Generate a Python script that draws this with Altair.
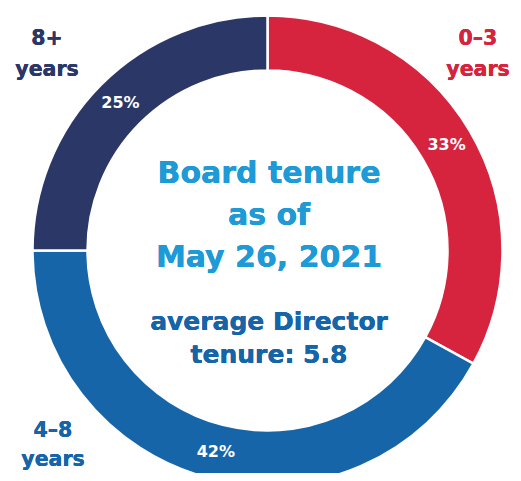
import altair as alt
import pandas as pd

# ---- data ----
categories = ["0–3 years", "4–8 years", "8+ years"]
shares = [33, 42, 25]
pct_labels = ["33%", "42%", "25%"]
label_lines = [["0–3", "years"], ["4–8", "years"], ["8+", "years"]]
slice_colors = ["#D6243F", "#1565A8", "#2B3767"]
title_lines = ["Board tenure", "as of", "May 26, 2021"]
subtitle_lines = ["average Director", "tenure: 5.8"]

FONT = "DejaVu Sans"
W, H = 505, 465
CX, CY = 259.5, 242.5

df = pd.DataFrame({
    "tenure": categories,
    "share": shares,
    "order": list(range(len(categories))),
    "label": pct_labels,
})

theta = alt.Theta("share:Q", stack=True)
order = alt.Order("order:Q")

arcs = alt.Chart(df).mark_arc(
    innerRadius=180, outerRadius=235, stroke="white", strokeWidth=2.5
).encode(
    theta=theta,
    order=order,
    color=alt.Color("tenure:N", scale=alt.Scale(domain=categories, range=slice_colors), legend=None),
    x=alt.value(CX),
    y=alt.value(CY),
)

pcts = alt.Chart(df).mark_text(
    radius=208, font=FONT, fontSize=16, fontWeight="bold", color="white"
).encode(
    theta=theta,
    order=order,
    text="label:N",
    x=alt.value(CX),
    y=alt.value(CY),
)

def note(lines, x, y, color, size, line_height):
    return alt.Chart(df).mark_text(
        text=lines, font=FONT, fontSize=size, fontWeight="bold", color=color,
        align="center", baseline="alphabetic", lineHeight=line_height,
    ).encode(x=alt.value(x), y=alt.value(y))

layers = [arcs, pcts]
# outside category labels
pos = [(470, 37, 31), (45, 429, 29), (39, 37, 31)]
for lines, col, (x, y, lh) in zip(label_lines, slice_colors, pos):
    layers.append(note(lines, x, y, col, 20.5, lh))

layers.append(note(title_lines, 261, 175, "#1E9AD6", 30, 42))
layers.append(note(subtitle_lines, 261, 322, "#1565A8", 25, 33))

chart = alt.layer(*layers).properties(
    width=W, height=H, autosize=alt.AutoSizeParams(type="none"), padding=0
).configure_view(stroke=None)

chart.save("out.html", embed_options={"renderer": "svg", "actions": False})
